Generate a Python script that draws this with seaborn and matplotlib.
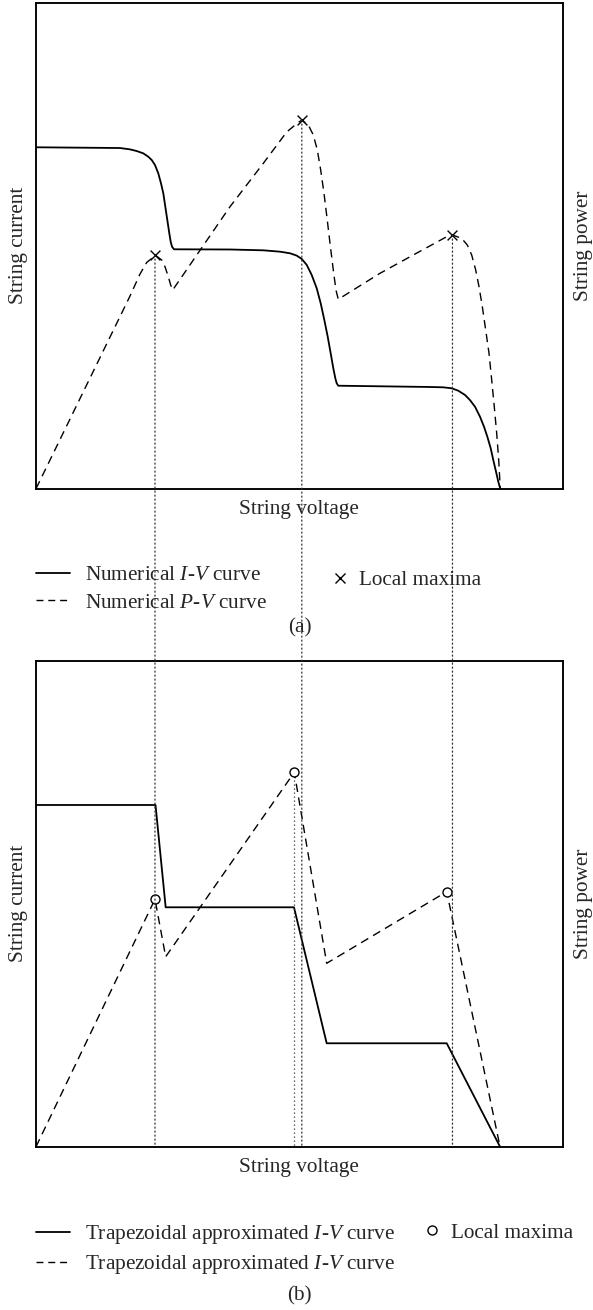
import matplotlib
matplotlib.use("Agg")
import matplotlib.pyplot as plt
from matplotlib.patches import ConnectionPatch
from matplotlib.lines import Line2D
import seaborn as sns
import pandas as pd

# ---------------- data (normalised units) ----------------
# (a) numerical curves
num_iv_v = [0.0, 0.1595, 0.1785, 0.1912, 0.2037, 0.2132, 0.2197, 0.2259, 0.2322, 0.2373,
            0.2417, 0.2455, 0.2493, 0.2531, 0.2557, 0.2582, 0.2620, 0.3683, 0.4316, 0.4633,
            0.4822, 0.4950, 0.5045, 0.5140, 0.5234, 0.5329, 0.5405, 0.5474, 0.5538, 0.5595,
            0.5645, 0.5683, 0.5709, 0.5739, 0.7481, 0.7733, 0.7893, 0.8018, 0.8146, 0.8240,
            0.8335, 0.8430, 0.8506, 0.8569, 0.8633, 0.8682, 0.8734, 0.8777, 0.8815]
num_iv_i = [0.7025, 0.7010, 0.6982, 0.6948, 0.6900, 0.6831, 0.6763, 0.6660, 0.6488, 0.6284,
            0.6078, 0.5803, 0.5529, 0.5255, 0.5084, 0.4981, 0.4926, 0.4922, 0.4905, 0.4877,
            0.4844, 0.4796, 0.4728, 0.4605, 0.4399, 0.4125, 0.3817, 0.3473, 0.3130, 0.2786,
            0.2477, 0.2272, 0.2169, 0.2119, 0.2093, 0.2086, 0.2066, 0.2016, 0.1928, 0.1823,
            0.1687, 0.1481, 0.1276, 0.1070, 0.0831, 0.0591, 0.0350, 0.0144, 0.0]
num_pv_v = [0.0, 0.1563, 0.1785, 0.1975, 0.2102, 0.2197, 0.2259, 0.2387, 0.2449, 0.2512,
            0.2557, 0.2595, 0.3683, 0.4316, 0.4760, 0.4950, 0.5047, 0.5170, 0.5265, 0.5341,
            0.5405, 0.5468, 0.5530, 0.5582, 0.5645, 0.5696, 0.5739, 0.6531, 0.7163, 0.7798,
            0.7907, 0.8082, 0.8189, 0.8272, 0.8348, 0.8411, 0.8474, 0.8538, 0.8601, 0.8652,
            0.8701, 0.8747, 0.8785, 0.8815]
num_pv_p = [0.0, 0.3471, 0.3965, 0.4418, 0.4656, 0.4738, 0.4809, 0.4706, 0.4568, 0.4362,
            0.4191, 0.4088, 0.5802, 0.6695, 0.7340, 0.7510, 0.7586, 0.7483, 0.7278, 0.6969,
            0.6558, 0.6078, 0.5529, 0.5049, 0.4494, 0.4083, 0.3897, 0.4432, 0.4809, 0.5185,
            0.5220, 0.5151, 0.5014, 0.4809, 0.4500, 0.4157, 0.3745, 0.3265, 0.2786, 0.2237,
            0.1687, 0.1138, 0.0590, 0.0]
num_max_v = [0.2259, 0.5047, 0.7907]
num_max_p = [0.4809, 0.7586, 0.5220]

# (b) trapezoidal approximation
tr_iv_v = [0.0, 0.2269, 0.2462, 0.4898, 0.5519, 0.7798, 0.8810]
tr_iv_i = [0.7031, 0.7031, 0.4926, 0.4926, 0.2128, 0.2128, 0.0]
tr_pv_v = [0.0, 0.2259, 0.2462, 0.4904, 0.5519, 0.7798, 0.8810]
tr_pv_p = [0.0, 0.5091, 0.3909, 0.7704, 0.3774, 0.5247, 0.0]
tr_max_v = [0.2259, 0.4904, 0.7798]
tr_max_p = [0.5091, 0.7704, 0.5247]

# ---------------- style ----------------
sns.set_style("white")
plt.rcParams["font.family"] = ["Liberation Serif", "DejaVu Serif"]
plt.rcParams["mathtext.fontset"] = "custom"
plt.rcParams["mathtext.rm"] = "Liberation Serif"
plt.rcParams["mathtext.it"] = "Liberation Serif:italic"
FS = 15.3
DASH = (0, (6, 4))
DOT = (0, (1, 2.2))

fig = plt.figure(figsize=(5.93, 13.10), dpi=100)
W, H = 593.0, 1310.0
L, R = 36.0, 562.7
ax_h = 486.0


def make_axes(bottom_px):
    ax = fig.add_axes([L / W, 1 - bottom_px / H, (R - L) / W, ax_h / H])
    ax2 = ax.twinx()
    return ax, ax2


def finish_axes(ax, ax2):
    for a in (ax, ax2):
        a.set_xlim(0, 1)
        a.set_ylim(0, 1)
        a.set_xticks([])
        a.set_yticks([])
        for s in a.spines.values():
            s.set_color("black")
            s.set_linewidth(1.1)
            s.set_visible(True)
    ax.set_ylabel("String current", fontsize=FS, labelpad=6)
    ax2.set_ylabel("String power", fontsize=FS, labelpad=8)
    ax.set_xlabel("String voltage", fontsize=FS, labelpad=8)
    ax2.set_xlabel("")


ax_a, ax_a2 = make_axes(488.7)
ax_b, ax_b2 = make_axes(1146.7)

# ---------------- (a) ----------------
df_iv = pd.DataFrame({"v": num_iv_v, "i": num_iv_i})
df_pv = pd.DataFrame({"v": num_pv_v, "p": num_pv_p})
df_mx = pd.DataFrame({"v": num_max_v, "p": num_max_p})
sns.lineplot(data=df_iv, x="v", y="i", ax=ax_a, sort=False, estimator=None,
             color="black", lw=1.3)
sns.lineplot(data=df_pv, x="v", y="p", ax=ax_a2, sort=False, estimator=None,
             color="black", lw=1.0, linestyle=DASH)
sns.scatterplot(data=df_mx, x="v", y="p", ax=ax_a2, marker="x", s=50,
                color="black", linewidth=1.0, zorder=5)

# ---------------- (b) ----------------
df_tiv = pd.DataFrame({"v": tr_iv_v, "i": tr_iv_i})
df_tpv = pd.DataFrame({"v": tr_pv_v, "p": tr_pv_p})
df_tmx = pd.DataFrame({"v": tr_max_v, "p": tr_max_p})
sns.lineplot(data=df_tiv, x="v", y="i", ax=ax_b, sort=False, estimator=None,
             color="black", lw=1.3)
sns.lineplot(data=df_tpv, x="v", y="p", ax=ax_b2, sort=False, estimator=None,
             color="black", lw=1.0, linestyle=DASH)
sns.scatterplot(data=df_tmx, x="v", y="p", ax=ax_b2, marker="o", s=42,
                facecolor="white", edgecolor="black", linewidth=1.0, zorder=5)

finish_axes(ax_a, ax_a2)
finish_axes(ax_b, ax_b2)

# dotted guide lines from numerical maxima down through both panels
for v, p in zip(num_max_v, num_max_p):
    con = ConnectionPatch(xyA=(v, p), coordsA=ax_a2.transData,
                          xyB=(v, 0), coordsB=ax_b2.transData,
                          linestyle=DOT, lw=0.9, color="#333333", zorder=1)
    fig.add_artist(con)
# guide line for the trapezoidal maximum that lies off the numerical ones
ax_b2.plot([tr_max_v[1], tr_max_v[1]], [tr_max_p[1], 0], linestyle=DOT,
           lw=0.9, color="#333333", zorder=1)


# ---------------- legends ----------------
def add_legends(row_top_px, lab1, lab2, marker, mk_x_px, mk_dy):
    h1 = Line2D([], [], color="black", lw=1.3)
    h2 = Line2D([], [], color="black", lw=1.0, linestyle=(0, (5, 3.5)))
    fig.legend([h1, h2], [lab1, lab2], loc="upper left",
               bbox_to_anchor=(L / W, 1 - row_top_px / H), bbox_transform=fig.transFigure,
               frameon=False, fontsize=FS, handlelength=1.6, handletextpad=0.7,
               borderpad=0, borderaxespad=0, labelspacing=0.35)
    if marker == "x":
        hm = Line2D([], [], color="black", marker="x", linestyle="none", markersize=7.5, mew=1.0)
    else:
        hm = Line2D([], [], color="black", marker="o", linestyle="none", markersize=6.5,
                    mfc="white", mew=1.0)
    fig.legend([hm], ["Local maxima"], loc="upper left",
               bbox_to_anchor=(mk_x_px / W, 1 - (row_top_px + mk_dy) / H),
               bbox_transform=fig.transFigure, frameon=False, fontsize=FS,
               handlelength=0.8, handletextpad=0.5, borderpad=0, borderaxespad=0)


add_legends(565.5, "Numerical $I$-$V$ curve", "Numerical $P$-$V$ curve", "x", 331.5, 5)
add_legends(1223, "Trapezoidal approximated $I$-$V$ curve",
            "Trapezoidal approximated $I$-$V$ curve", "o", 423.5, 0)

fig.text(299.5 / W, 1 - 628 / H, "(a)", ha="center", va="center", fontsize=FS)
fig.text(299.5 / W, 1 - 1296 / H, "(b)", ha="center", va="center", fontsize=FS)

fig.savefig("out.png", dpi=100, facecolor="white")
